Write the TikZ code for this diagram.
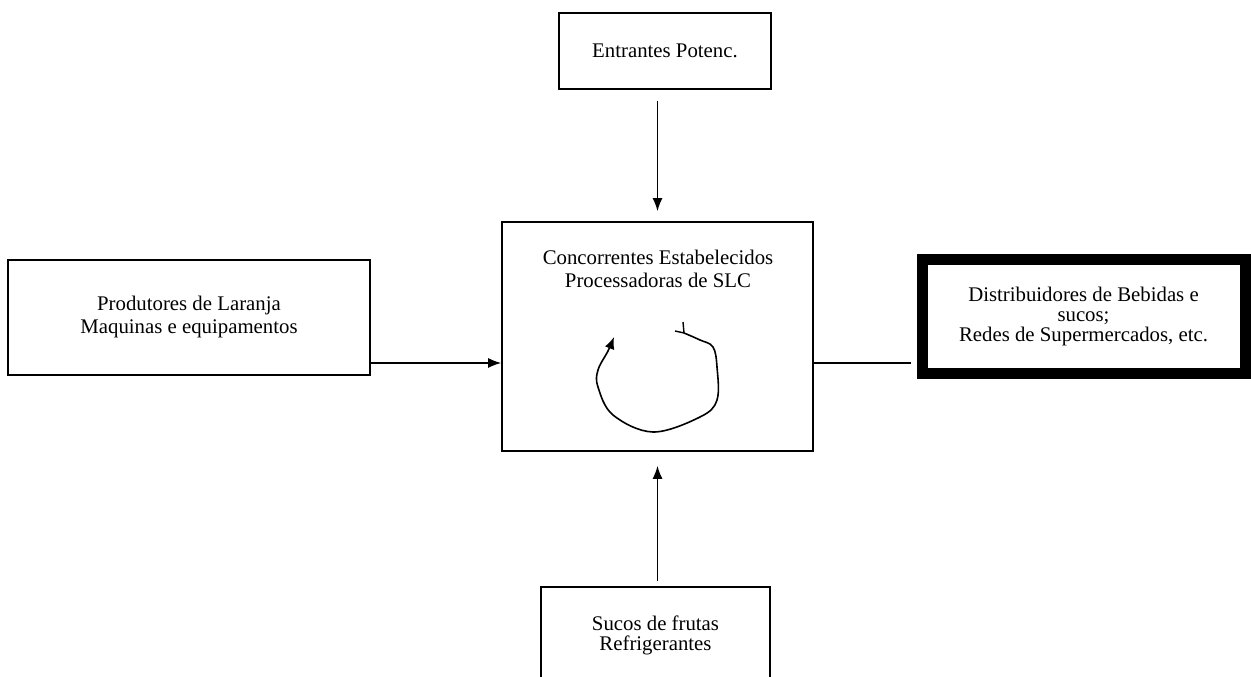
\documentclass[tikz,border=0pt]{standalone}
\usepackage{fontspec}
\setmainfont{Liberation Serif}
\usetikzlibrary{arrows.meta}
\tikzset{
  box/.style={draw=black, line width=1.6pt, rectangle, inner sep=0pt, align=center,
              font=\fontsize{20.8}{23}\selectfont},
  thickbox/.style={box, line width=11pt, font=\fontsize{20.8}{20}\selectfont},
  label text/.style={inner sep=0pt, align=center, font=\fontsize{20.8}{23}\selectfont},
  flow/.style={line width=1.5pt, -{Latex[length=13pt,width=10pt]}},
  link/.style={line width=1.5pt},
  cycle arrow/.style={line width=1.6pt, line join=round, -{Latex[length=12pt,width=10pt]}}
}
\begin{document}
\begin{tikzpicture}[x=1pt,y=1pt]
  \useasboundingbox (0,0) rectangle (1251,677);
  \clip (0,0) rectangle (1251,677);
  \fill[white] (0,0) rectangle (1251,677);

  % the five forces
  \node[box, minimum width=212pt, minimum height=76pt] (entr) at (665,626) {Entrantes Potenc.};
  \node[box, minimum width=362pt, minimum height=115pt] (forn) at (189,359.5)
       {Produtores de Laranja\\Maquinas e equipamentos};
  \node[box, minimum width=311pt, minimum height=229pt] (conc) at (657.5,340.5) {};
  \node[label text] (conctxt) at (658,408.5)
       {Concorrentes Estabelecidos\\Processadoras de SLC};
  \node[thickbox, minimum width=323pt, minimum height=114pt] (clie) at (1083.5,360)
       {Distribuidores de Bebidas e\\sucos;\\Redes de Supermercados, etc.};
  \node[box, font=\fontsize{20.8}{20}\selectfont, minimum width=229pt, minimum height=96pt]
       (subs) at (655.5,42) {Sucos de frutas\\Refrigerantes};

  % connectors
  \coordinate (hy) at (0,314);
  \draw[flow, shorten <=11pt, shorten >=10pt] (entr.south -| conc.north) -- (conc.north);
  \draw[flow, shorten <=5pt, shorten >=14pt] (subs.north -| conc.south) -- (conc.south);
  \draw[flow] (forn.east |- hy) -- (conc.west |- hy);
  \draw[link] (conc.east |- hy) -- ([xshift=-5.5pt]clie.west |- hy);

  % rivalry loop inside the central box
  \coordinate (loopstart) at (684,344);
  \draw[cycle arrow] (loopstart) plot[smooth, tension=0.6] coordinates {
      (684,344) (700,337) (713,330) (717,310) (717,277) (700,260)
      (653,245) (613,262) (598,290) (598,307) (608,326) (614,340)};
  \draw[line width=1.4pt] (loopstart) -- (683,355);
  \draw[line width=1.4pt] (loopstart) -- (675,346);
\end{tikzpicture}
\end{document}
